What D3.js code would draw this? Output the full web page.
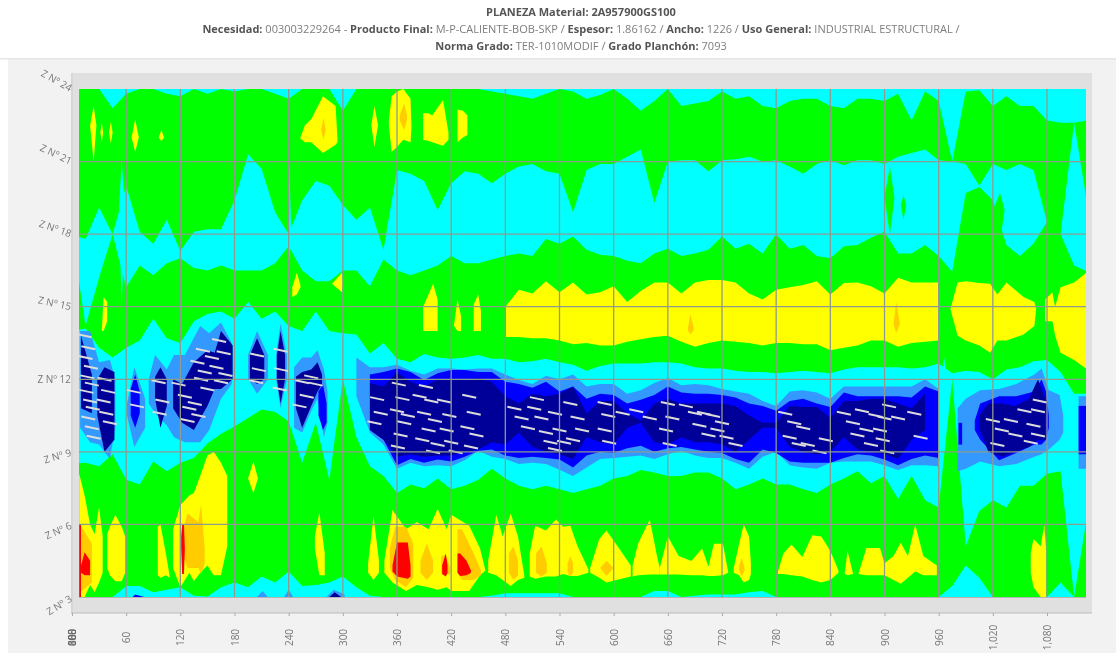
<!DOCTYPE html>
<html><head><meta charset="utf-8">
<script src="https://cdnjs.cloudflare.com/ajax/libs/d3/7.8.5/d3.min.js"></script>
<style>
html,body{margin:0;padding:0;background:#fff;overflow:hidden}
svg{display:block;filter:blur(0.45px)}
text{font-family:"Open Sans",sans-serif}
</style></head><body><svg id="c" width="1116" height="653"></svg>
<script>
// ---- axis categories
const xTicks = d3.range(0, 1081, 60);
const zTicks = [3, 6, 9, 12, 15, 18, 21, 24];
const zLabelAngles = [-32, -24, -16, 0, 12, 19, 25, 29];
const titleLines = [
  [["b","PLANEZA Material: 2A957900GS100"]],
  [["b","Necesidad:"],["r"," 003003229264 - "],["b","Producto Final:"],["r"," M-P-CALIENTE-BOB-SKP / "],["b","Espesor:"],["r"," 1.86162 / "],["b","Ancho:"],["r"," 1226 / "],["b","Uso General:"],["r"," INDUSTRIAL ESTRUCTURAL /"]],
  [["b","Norma Grado:"],["r"," TER-1010MODIF / "],["b","Grado Planchón:"],["r"," 7093"]]
];
// ---- band colours
const colGreen="#00ff00",colCyan="#00ffff",colYellow="#ffff00",colOrange="#ffcc00",colRed="#ff0000",colLight="#3399ff",colBlue="#0000ff",colNavy="#000099";
// ---- band edges read per column (length position every 15), as Z values
const columnStep = 15;
const topCyanLower = [24,24,24,23.2,23.8,24,24,23.8,23.7,24,
 23.8,24,23.9,24,24,23.8,23.6,24,24,24,
 23.1,24,24,24,24,24,24,24,24,24,
 24,23.9,23.8,23.7,23.6,23.8,24,23.9,23.6,23.75,
 24,23.6,23.1,23.5,24,23.3,23.4,23.5,23.9,23.6,
 23.7,23.3,23.2,23.5,23.6,23.6,23.3,23.2,23.6,23.6,
 23.5,23.8,22.7,23.9,23.5,21,23.9,23.95,23.3,23.7,
 23.3,23.3,22.7,22.6,22.6,22.7];
const midCyanUpper = [18,17.8,19.1,18,20,18.1,17.6,18.6,17.3,18.1,
 18.2,18.2,19.4,21.3,20.7,18.9,18,19.4,20.2,20,
 19.2,18.6,19.1,17.35,20.65,20.5,20.2,19,20.1,20.6,
 20.5,20.1,20.5,20.8,20.9,20.6,20.5,18.9,20.65,20.9,
 20.9,21.2,21.5,19.3,21,21.05,21.05,20.6,21.05,21.1,
 21.2,21,21.05,20.8,20.5,20.9,21.05,20.85,21.05,21.05,
 20.9,21.2,21.35,21.5,21.05,21,20.9,20,20.9,20.65,
 20.9,20.65,18.5,18,22.6,19.15];
const midCyanLower = [18,14.2,16.2,18,15.8,16.7,16.3,16.8,17,16.6,
 16.5,16.7,16.5,16.5,16.5,16.8,17.5,16.5,16.05,16.05,
 16.5,16.5,15.85,16.95,16.5,16.3,16.5,16.7,17.1,16.8,
 16.8,16.95,17.1,17.2,17.1,17.8,17.6,17.9,17.35,17.15,
 17.1,16.9,16.8,17.2,17.4,17.1,17.2,17.35,17.9,17.4,
 17.6,17.2,18,17.4,17.55,17.1,17,17.5,17.55,17.85,
 18.1,17.2,17.2,17.55,17.1,16.45,19.7,19.95,19.4,17.55,
 17.1,17.6,18.5,18,16.7,16.45];
const lowCyanUpper = [14,14.1,13.3,12.9,13.3,13.6,14.5,13.7,13.5,14.4,
 14.7,14.8,14.5,15.2,14.5,14.8,14.2,14,14.8,14,
 13.9,13.85,13.07,13.5,12.85,12.7,13.05,12.9,12.85,12.9,
 13,12.85,12.85,12.7,12.75,12.85,12.7,12.6,12.35,12.55,
 12.65,12.65,12.65,12.7,12.7,12.65,12.5,12.45,12.45,12.35,
 12.3,12.3,12.25,12.3,12.35,12.3,12.25,12.4,12.5,12.5,
 12.5,12.5,12.45,12.5,12.65,12.25,12.35,12.3,12,12.4,
 12.5,12.75,12.8,12.3,11.4,11.4];
const lowCyanLower = [8.5,8.55,8.4,8.9,7.85,7.65,8.6,8.2,8.55,8.75,
 9.35,9.75,10.05,10.4,10.75,10.65,10.25,8.55,10.2,7.85,
 12,9.6,8.4,8,7.3,7.65,7.5,7.9,7.45,7.6,
 7.85,8.3,7.9,7.6,7.45,7.6,7.45,7.3,7.45,7.6,
 7.9,8,8.25,8.15,8,8,8.15,8.15,7.9,7.45,
 7.65,7.9,7.65,7.65,7.45,7.3,7.65,7.9,8.2,7.7,
 8,7.05,8,7,6.7,12,5.1,6.55,7,6.7,
 7.6,7.6,8.1,8.2,3,6.5];
const bottomCyanUpper = [3,3,3,3,3.45,3.45,3.2,3.3,3.4,3.05,
 3.02,3.4,3.6,3.4,3.85,3.6,4.05,3.45,3.5,3.6,
 3.85,3.4,3.05,3,3,3,3,3,3,3,
 3,3.05,3.15,3.15,3.15,3.15,3.15,3,3,3,
 3,3,3,3.25,3.25,3,3.05,3.1,3.1,3.1,
 3.2,3.25,3,3,3,3,3,3,3,3,
 3,3,3,3,3,3.45,4.3,3.8,3,3,
 3,3,3,3.6,3,3];
// [upper, lower] per column, from a first column position
const yellowMidStart = 480;
const yellowMid = [[15,13.75],[15.7,13.75],[15.55,13.7],[16.05,13.7],[15.6,13.6],[16,13.45],[15.5,13.5],[15.6,13.4],[15.85,13.4],[15.2,13.55],[15.65,13.65],[16,13.75],[16,13.8],[15.55,13.55],[16,13.35],[16.1,13.5],[16.1,13.6],[16,13.55],[15.55,13.5],[15.3,13.4],[15.7,13.5],[15.8,13.5],[15.9,13.45],[16.05,13.45],[15.5,13.2],[15.98,13.3],[16,13.4],[15.85,13.6],[15.55,13.6],[16.2,13.35],[16,13.5],[16,13.55],[16,13.6]];
const lightMainStart = 315;
const lightMain = [[12.9,11.3],[12.5,9.8],[12.5,9.3],[12.6,8.3],[12.35,8.55],[12.2,8.4],[12.45,8.45],[12.45,8.4],[12.4,8.65],[12.45,9.05],[12.45,8.8],[12.2,8.7],[11.97,8.5],[11.8,8.55],[12.15,8.5],[12,8.26],[12.2,8],[11.7,8.35],[11.8,8.7],[11.8,8.75],[11.4,8.8],[11.55,8.85],[11.85,8.7],[12.05,8.9],[11.75,9.05],[11.8,8.85],[11.75,8.75],[11.6,8.75],[11.5,8.55],[11.4,8.3],[11.1,8.8],[10.9,9],[11.5,8.45],[11.55,8.35],[11.45,8.3],[11.2,8.55],[11.7,8.6],[11.7,8.6],[11.7,8.6],[11.7,8.45],[11.7,8.25],[11.7,8.45],[12,8.45],[11.6,8.4]];
const blueMainStart = 330;
const blueMain = [[12.2,9.9],[12.3,9.5],[12.45,8.45],[12.3,8.7],[11.97,8.55],[12.25,8.68],[12.38,8.6],[12.38,8.8],[12.3,9.05],[12.3,9.1],[11.9,8.85],[11.8,8.75],[11.65,8.8],[11.9,8.75],[11.5,8.68],[11.7,8.35],[11.2,8.85],[11.4,9],[11.35,8.95],[11,9.15],[11.15,9.25],[11.35,9],[11.7,9.15],[11.45,9.2],[11.4,9.1],[11.4,9],[11.35,8.95],[11.25,8.7],[11,8.55],[10.9,9.1],[10.7,8.95],[11.1,8.6],[11.2,8.55],[11,8.55],[10.85,8.55],[11.45,8.75],[11.3,8.9],[11.3,8.85],[11.3,8.68],[11.3,8.45],[11.25,8.7],[11.7,8.85],[11.5,8.75]];
const navyMainStart = 330;
const navyMain = [[11.85,9.9],[11.7,9.5],[12.3,8.8],[11.9,8.9],[11.7,8.8],[12,8.85],[12,8.85],[11.95,9],[12.05,9.1],[11.9,9.4],[11.3,9.3],[11,9.8],[11.4,9.2],[11.3,9],[11.4,8.9],[11.7,8.7],[10.6,9.6],[11.1,9.4],[11.1,9.3],[10.6,10],[10.3,10.2],[11,9.4],[11.2,9.3],[11,9.6],[11,9.4],[11,9.4],[11,9.3],[10.9,9],[10.5,9.5],[10.2,10],[10.2,10],[10.9,9.2],[10.85,9],[10.85,8.9],[10.4,9],[11.1,9.6],[11.1,9.1],[11.2,9],[11.2,8.9],[11,8.7],[10.8,9.5],[11.4,9.9]];
// ---- isolated patches: [position, upper Z, lower Z]
const cyanPatches = [
 [[52,19,19],[55,21,15],[59,19,19]],
 [[239,18,18],[240.5,21,16.9],[243,18,18]],
 [[963,12,12],[966,12.9,11.5],[970,12,12]]
];
const greenPatches = [
 [[900,19.5,19.5],[906,20.8,18],[911,19.5,19.5]],
 [[918,19.2,19.2],[921,19.6,18.6],[924,19.2,19.2]],
 [[1020,19,19],[1028,19.7,17.7],[1033,19,19]]
];
const yellowPatches = [
 [[253,22,21.95],[258,22.5,21.8],[265,22.75,21.8],[278,23.7,21.35],[292,23.3,21.7],[294,22,21.8]],
 [[20,22.5,22.5],[24,23.3,21],[27,22.5,22.5]],
 [[31.5,22.2,22.2],[33,22.6,21.8],[34.5,22.2,22.2]],
 [[41,22.2,22.2],[43,22.65,21.75],[45,22.2,22.2]],
 [[66,22,22],[70,22.75,21.4],[74,22,22]],
 [[96,22,22],[99,22.3,21.85],[102,22,22]],
 [[331.5,22.5,22.5],[335,23.3,21.6],[339,22.5,22.5]],
 [[351,22.7,22.5],[354,23.7,21.4],[360,23.9,21.6],[367,24,21.9],[375,23.6,21.8],[376,22.5,22.4]],
 [[389,23,21.9],[395,23,21.85],[399,22.9,21.8],[411,23.55,21.65],[417,22.2,21.9]],
 [[427,23.15,21.8],[433,23.1,22],[438,22.9,22.1]],
 [[244,15.8,15.4],[249,16.4,15.5],[253,15.9,15.8]],
 [[288,15.95,15.95],[299,16.4,15.6],[300,15.9,15.9]],
 [[33,14,14],[35,15.4,14],[39,15.2,14.4]],
 [[389,15,14],[400,15.95,14],[405,15.3,14]],
 [[423,14.2,14.2],[427,15.3,14],[431,14.6,14]],
 [[445,15.1,14],[450,15.5,14],[453,14.8,14]],
 [[973,14.9,14.9],[981,16,13.8],[990,16.05,13.6],[1005,15.98,13.4],[1017,15.95,13.1],[1025,15.5,13.6],[1035,16,13.6],[1054,15.4,13.85],[1066,15.2,14.2],[1068,14.9,14.9]],
 [[1078,15.3,14.4],[1086,15.6,14.4],[1089,15,13.8],[1095,15.8,13.1],[1110,16,12.8],[1125,16.45,12.4]],
 [[8,8.1,3],[14,7.2,3],[20,6,3.5],[25,5.6,3.2],[30,6.7,3.6],[34,5.5,4]],
 [[39,5.6,4.2],[42,5.9,3.9],[48,6.4,3.65],[55,5.9,3.65],[59,5.5,4]],
 [[95,5.9,3.9],[98,6,3.8],[104,4.8,3.9],[108,3.9,3.8]],
 [[112,5.8,4.2],[120,6.8,3.4],[130,7.2,4],[135,7.3,3.65],[142,8,4],[150,8.85,4.3],[157,9,3.9],[165,8.55,3.9],[172,8,5.1]],
 [[195,7.9,7.9],[201,8.6,7.3],[206,7.9,7.9]],
 [[269,5.5,5],[274,6.5,3.9],[280,4.8,3.9]],
 [[328,4.4,4],[334,6.35,3.7],[340,4.5,4]],
 [[346,4.5,4],[355,6.6,3.6],[370,5.8,3.25],[382,6.1,3.5],[395,5.8,3.4],[405,6.65,3.3],[415,5.8,3.4],[420,6.4,3.25],[440,5.95,3.25],[452,5,3.9],[458,4.1,4.1]],
 [[461,4.5,4],[470,6.4,3.9],[477,5.5,3.7],[486,6.45,3.45],[494,5.5,3.7],[501,3.9,3.8]],
 [[507,4.8,3.85],[513,5.95,3.75],[525,5.75,3.85],[536,6.2,3.85],[544,5.9,3.95],[552,5.95,3.87],[560,5.1,3.87],[572,4.15,4]],
 [[574,4.2,4],[584,5.4,3.8],[592,5.75,3.6],[603,5.17,3.7],[619,4.3,3.85]],
 [[621,4.3,3.85],[627,5.2,3.9],[640,6.2,3.93],[648,4.7,3.93],[651,4.2,3.93]],
 [[651,4.2,3.93],[660,5.5,3.93],[672,4.7,3.93],[686,4.49,3.9],[698,5,3.9],[705,4.25,3.87],[711,5.2,3.87],[721,5.2,3.9],[727,4,4]],
 [[733,4.2,4],[739,5.2,3.9],[744,6,3.6],[750,5.5,3.7],[752,4.4,3.95]],
 [[782,4.05,3.95],[788,4.8,3.95],[797,5.17,3.9],[809,4.65,3.85],[820,5.55,3.7],[830,5.5,3.6],[840,4.9,3.7],[849,4.1,4]],
 [[856,4,3.95],[859,4.9,3.9],[865,4,3.95]],
 [[871,3.95,3.95],[880,5.03,3.9],[895,5.03,3.9],[900,4.4,3.9],[910,4.7,3.7],[918,5.24,3.55],[926,4.7,3.8],[934,6,4.05],[943,4.7,3.9],[958,4.3,3.9]],
 [[1062,4.8,4],[1065,5.4,3.4],[1073,5.1,3],[1077,6,3],[1079,5,3]]
];
const orangePatches = [
 [[121,5.5,5],[128,6.45,4.2],[140,6.1,4.2],[143,6.85,3.95],[147,5,4.4]],
 [[352,5,4.2],[358,5.9,3.7],[370,5.9,3.4],[378,5.2,3.8]],
 [[386,4.5,4],[393,5.2,3.7],[400,4.5,4]],
 [[409,4.7,3.95],[414,4.75,3.9],[419,4.2,3.95]],
 [[427,5.8,4],[432,5.8,3.7],[445,4.8,3.7],[453,4.1,3.9]],
 [[484,4.8,4],[489,5.1,3.7],[494,4.5,3.9]],
 [[514,4.8,4],[520,5.1,3.85],[526,4.4,4]],
 [[549,4.4,4],[552,4.7,3.85],[555,4.4,4]],
 [[585,4.2,4.2],[592,4.5,3.87],[600,4.2,4.2]],
 [[739,4.3,4.1],[742,4.6,3.85],[745,4.2,4.1]],
 [[363,22.9,22.7],[368,23.4,22.3],[371,22.9,22.7]],
 [[276,22.3,22.3],[278.5,22.8,21.9],[281,22.3,22.3]],
 [[682,14.05,14.05],[685,14.7,13.85],[689,14.05,14.05]],
 [[910,14.3,14.3],[913,15.2,13.9],[917,14.3,14.3]],
 [[9,6,3.2],[22,5.2,3.6]]
];
const redPatches = [
 [[355,4.3,4.05],[360,5.25,3.85],[372,5.25,3.75],[375,4.3,3.85]],
 [[410,4.3,3.95],[414,4.8,3.85],[416,4.3,4]],
 [[427,4.8,4],[430,4.8,3.87],[437,4.5,3.9],[442,4.1,4]],
 [[121,5.5,5],[122,6,3.95],[124,6,3.95],[125,5,5]],
 [[8,6,3],[10,6,3]],
 [[10,4.3,4],[14,4.85,3.9],[20,4.5,3.9]]
];
const lightPatches = [
 [[9,14,10],[20,14,9.4],[30,12.7,9.3],[42,12.8,8.7],[48,12,10]],
 [[61,11,10.5],[69,12.5,9.2],[81,11.2,10]],
 [[85,12,11],[92,13,10.6],[105,12.4,10.1],[113,13,9.6],[125,13,9.4],[142,14.2,9.4],[152,13.9,9.9],[165,14.35,11.2],[177,13.5,11.8]],
 [[195,13,12],[205,14,11.4],[217,13,12]],
 [[226,13,12],[231,14.3,10.8],[238,13,12]],
 [[246,12.5,10],[255,12.9,9.8],[265,12.9,10.7],[272,13.2,11.2],[279,12.4,9.6],[283,11.5,10.2]],
 [[981,10.8,8.2],[990,11.2,8.3],[1006,11.55,8.6],[1027,11.6,8.4],[1046,11.8,8.5],[1066,12.2,8.8],[1074,12.45,8.9],[1082,11.55,9.1],[1094,11.35,9.5],[1098,10.5,9.8]],
 [[1115,11.3,8.3],[1125,11.3,8.3]],
 [[205,3,3],[211,3.25,3],[217,3,3]],
 [[235,3,3],[240,3.3,3],[245,3,3]],
 [[282,3,3],[290,3.3,3],[302,3.1,3]]
];
const bluePatches = [
 [[65,11.6,10.5],[70,12.2,10],[75,11.5,10.6]],
 [[273,11.5,10.5],[278,11.8,9.9],[282,11,10.2]],
 [[1000,10.3,9.9],[1006,11,9.5],[1027,11.3,8.65],[1046,11.3,8.95],[1066,11.5,9.3],[1074,12,9.3],[1079,11.5,9.5],[1082,10.5,10]],
 [[982,10.2,9.3],[986,10.2,9.3]],
 [[1115,10.9,8.9],[1125,10.9,8.9]],
 [[67,3,3],[70,3.1,3],[80,3,3]]
];
const navyPatches = [
 [[28,12,10.5],[36,12.5,9],[47,12.3,9.5]],
 [[10,13.8,10.8],[22,12.2,10.6]],
 [[92,12.1,11.2],[98,12.5,10],[105,12,10.9]],
 [[112,12,10.8],[122,11.8,10.2],[135,12.7,9.9],[150,13.2,10.9],[158,13.1,11.6],[165,14,11.6],[178,13.4,12]],
 [[197,13,12],[205,13.7,11.8],[213,13,12]],
 [[227,13,12],[231,14,11],[236,13,12]],
 [[248,12.1,10.8],[255,12.3,10],[265,12.4,10.9],[272,12.7,11.5],[277,12.2,11.8]],
 [[1005,10.5,10],[1015,11,9],[1030,11,8.8],[1045,10.9,9],[1060,11.2,9.2],[1070,12,9.5],[1078,11.2,9.5]],
 [[285,3,3],[291,3.2,3],[298,3,3]]
];
// ---- pale dropout streaks seen inside the darkest band: [position, Z]
const streaks = [[14,13.8],[18,13.3],[15,12.9],[21,12.5],[17,12.1],[22,11.8],[16,11.5],[20,11.1],[23,10.8],[18,10.4],[22,10],[24,9.6],
 [36,12],[40,11.5],[35,11.1],[38,10.6],[42,10.2],[68,11.5],[72,10.9],[96,11.9],[100,11.1],[97,10.6],
 [118,11.8],[125,11.3],[130,10.8],[128,10.3],[136,11],[140,10.5],[143,12],[139,12.7],[147,12.3],[150,11.6],[145,13.2],[155,12.9],
 [163,13.6],[168,13.1],[160,12.5],[170,12.2],[165,11.9],[205,13],[207,12.4],[204,11.9],[231,13.2],[232,12.4],[230,11.6],
 [255,11.9],[260,11.3],[252,10.9],[265,12.1],[270,11.8],
 [338,11.2],[342,10.6],[335,10.2],[362,11.8],[366,11.2],[360,10.7],[368,10.2],[364,9.7],[361,9.2],[372,10.5],
 [385,11.3],[392,11.7],[398,11.1],[390,10.6],[402,10.3],[395,9.9],[388,9.5],[405,9.3],[400,9],
 [412,11.1],[418,10.5],[415,9.9],[420,9.4],[425,9],[440,11.3],[445,10.6],[438,10],[448,9.7],[442,9.2],
 [490,10.8],[498,10.4],[505,10],[512,10.8],[520,10.4],[515,11.2],[525,9.8],[530,9.4],[535,10.6],[540,9.9],[545,9.4],[535,9.1],
 [552,11],[560,10.4],[565,9.9],[555,9.5],[590,11],[594,10.5],[590,9.9],[595,9.4],[610,10.6],[625,10.7],[640,10.4],
 [660,11],[665,10.4],[658,9.9],[662,9.3],[680,10.9],[690,10.6],[700,10.6],[695,10.1],[710,10.5],[715,9.9],[705,9.7],[725,9.6],[735,9.3],[720,10.2],
 [790,10.6],[800,10.2],[810,10],[795,9.6],[815,9.3],[828,9],[805,9.3],[835,9.5],
 [855,10.6],[865,10.2],[875,10.7],[880,9.9],[890,10.5],[895,9.9],[900,10.4],[905,10.9],[898,9.5],[903,9],[885,9.3],[870,9.7],[915,10.4],
 [933,10.6],[940,9.6],[1020,10.3],[1030,9.9],[1025,9.3],[1040,10.3],[1045,9.7],[1055,10.7],[1065,10.1],[1070,9.7],[1072,11.1],[1070,10.7],[1062,9.4]];

// ---- scales
const x = d3.scaleLinear().domain([0,1080]).range([72,1047]);
const y = d3.scaleLinear().domain([3,24]).range([597,89]);
const svg = d3.select("#c");
svg.append("rect").attr("x",8).attr("y",59).attr("width",1108).attr("height",594).attr("fill","#f2f2f2");
svg.append("rect").attr("x",0).attr("y",58).attr("width",1116).attr("height",1.5).attr("fill","#e6e6e6");
svg.append("rect").attr("x",73).attr("y",73).attr("width",1019).attr("height",540).attr("fill","#e0e0e0");

const title = svg.append("g").attr("text-anchor","middle").attr("font-size",11);
const titleY=[16,33,50];
titleLines.forEach((parts,i)=>{
  const t=title.append("text").attr("x",581).attr("y",titleY[i]);
  parts.forEach(p=>t.append("tspan").text(p[1]).attr("font-weight",p[0]==="b"?700:400).attr("fill",p[0]==="b"?"#555":"#7d7d7d"));
});

svg.append("clipPath").attr("id","data").append("rect").attr("x",79).attr("y",89).attr("width",1007).attr("height",508);
const plot = svg.append("g").attr("clip-path","url(#data)");
plot.append("rect").attr("x",60).attr("y",80).attr("width",1040).attr("height",530).attr("fill",colGreen);
const area = d3.area().x(d=>x(d[0])).y0(d=>y(d[1])).y1(d=>y(d[2]));
const draw = (rows,fill)=>plot.append("path").datum(rows).attr("fill",fill).attr("d",area);
const cols = a=>a.map((_,i)=>i*columnStep);
draw(cols(topCyanLower).map((v,i)=>[v,24,topCyanLower[i]]),colCyan);
draw(cols(midCyanUpper).map((v,i)=>[v,midCyanUpper[i],midCyanLower[i]]),colCyan);
draw(cols(lowCyanUpper).map((v,i)=>[v,lowCyanUpper[i],lowCyanLower[i]]),colCyan);
draw(cols(bottomCyanUpper).map((v,i)=>[v,bottomCyanUpper[i],3]),colCyan);
const run = (start,pairs)=>pairs.map((p,i)=>[start+i*columnStep,p[0],p[1]]);
cyanPatches.forEach(p=>draw(p,colCyan));
greenPatches.forEach(p=>draw(p,colGreen));
draw(run(yellowMidStart,yellowMid),colYellow);
yellowPatches.forEach(p=>draw(p,colYellow));
orangePatches.forEach(p=>draw(p,colOrange));
redPatches.forEach(p=>draw(p,colRed));
draw(run(lightMainStart,lightMain),colLight);
lightPatches.forEach(p=>draw(p,colLight));
draw(run(blueMainStart,blueMain),colBlue);
bluePatches.forEach(p=>draw(p,colBlue));
draw(run(navyMainStart,navyMain),colNavy);
navyPatches.forEach(p=>draw(p,colNavy));
plot.append("g").selectAll("line").data(streaks).join("line")
  .attr("x1",d=>x(d[0])-7).attr("x2",d=>x(d[0])+7)
  .attr("y1",d=>y(d[1])-1.5).attr("y2",d=>y(d[1])+1.5)
  .attr("stroke","#dcdcdc").attr("stroke-width",2);

// ---- grid
const grid = svg.append("g").attr("stroke","#8f9a8f").attr("stroke-width",1.3);
grid.selectAll("line.v").data(xTicks.slice(1)).join("line").attr("class","v")
  .attr("x1",d=>x(d)).attr("x2",d=>x(d)).attr("y1",89).attr("y2",597);
grid.selectAll("line.h").data(zTicks.slice(1,-1)).join("line").attr("class","h")
  .attr("x1",79).attr("x2",1086).attr("y1",d=>y(d)).attr("y2",d=>y(d));
svg.append("line").attr("x1",79).attr("x2",1086).attr("y1",597.5).attr("y2",597.5).attr("stroke","#b5b5b5");

// ---- axes
const axB = d3.axisBottom(x).tickValues(xTicks).tickSize(3).tickPadding(0);
const gx = svg.append("g").attr("transform","translate(0,613)").call(axB);
gx.select(".domain").attr("stroke","#bbb").attr("d","M71,0H1092");
gx.selectAll(".tick line").attr("stroke","#aaa");
gx.selectAll(".tick text").attr("fill","#777").attr("font-size",10).attr("font-family","'Open Sans',sans-serif")
  .attr("text-anchor","middle").attr("dy",0).attr("y",0)
  .attr("transform","translate(3.5,24.5) rotate(-90)");
// overlapped tick labels at the origin
["888","000","100"].forEach(s=>svg.append("text").text(s).attr("fill","#666").attr("font-size",10)
  .attr("text-anchor","middle").attr("transform",`translate(${x(0)+3.5},637.5) rotate(-90)`));

const axL = d3.axisLeft(y).tickValues(zTicks).tickSize(0).tickPadding(0).tickFormat(d=>"Z Nº "+d);
const gy = svg.append("g").attr("transform","translate(72,0)").call(axL);
gy.select(".domain").attr("stroke","#bbb").attr("d","M0,73V613");
gy.selectAll(".tick text").attr("fill","#777").attr("font-size",10).attr("font-family","'Open Sans',sans-serif")
  .attr("text-anchor","end").attr("dy","0.32em").attr("x",-1)
  .attr("transform",(d,i)=>`rotate(${zLabelAngles[i]})`);
</script></body></html>
